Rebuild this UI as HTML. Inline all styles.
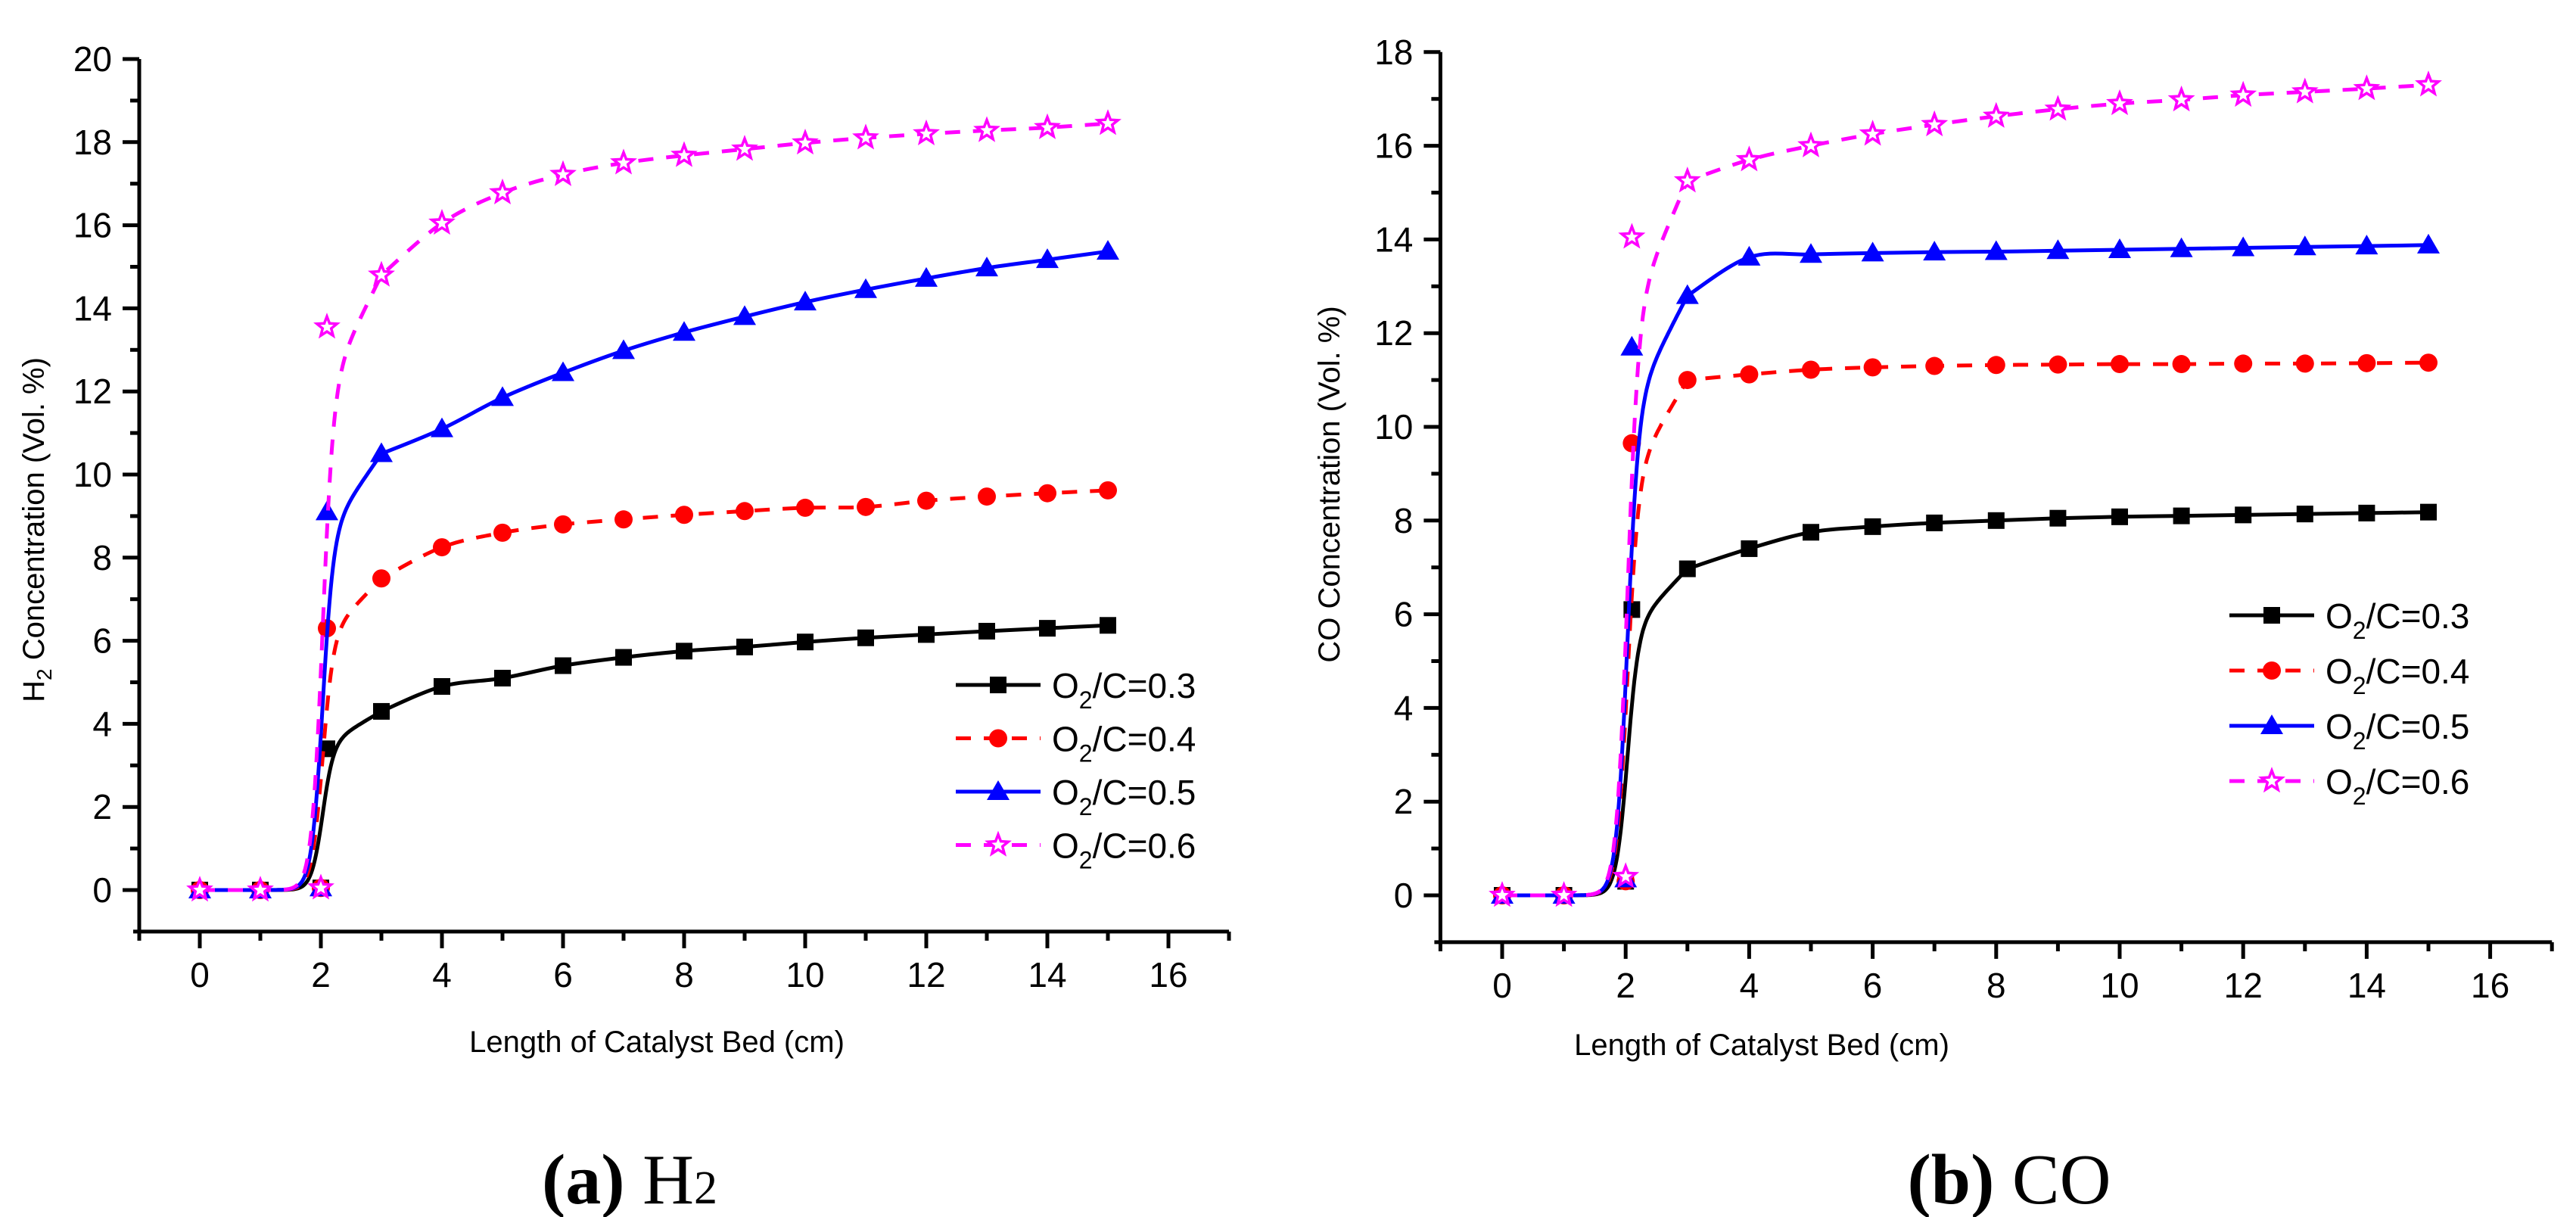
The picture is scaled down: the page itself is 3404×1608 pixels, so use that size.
<!DOCTYPE html>
<html><head><meta charset="utf-8"><style>
html,body{margin:0;padding:0;background:#fff;}
svg{display:block;font-family:"Liberation Sans",Arial,sans-serif;}
</style></head><body>
<svg id="fig" width="3404" height="1608" viewBox="0 0 3404 1608" xmlns="http://www.w3.org/2000/svg">
<text x="832" y="1590" text-anchor="middle" font-family="Liberation Serif, serif" font-size="94"><tspan font-weight="bold">(a)</tspan> H<tspan font-size="62">2</tspan></text>
<text x="2655" y="1590" text-anchor="middle" font-family="Liberation Serif, serif" font-size="94"><tspan font-weight="bold">(b)</tspan> CO</text>
</svg>
<script>
const xCats = [0, 1, 2, 2.1, 3, 4, 5, 6, 7, 8, 9, 10, 11, 12, 13, 14, 15];
const seriesLabels = ["0.3", "0.4", "0.5", "0.6"];
const h2_03 = [0, 0, 0.05, 3.4, 4.3, 4.9, 5.1, 5.4, 5.6, 5.75, 5.85, 5.97, 6.07, 6.15, 6.23, 6.3, 6.37];
const h2_04 = [0, 0, 0.05, 6.3, 7.5, 8.25, 8.6, 8.8, 8.92, 9.03, 9.12, 9.2, 9.22, 9.37, 9.47, 9.55, 9.62];
const h2_05 = [0, 0, 0.05, 9.1, 10.5, 11.1, 11.85, 12.45, 12.98, 13.42, 13.8, 14.15, 14.45, 14.72, 14.97, 15.17, 15.37];
const h2_06 = [0, 0, 0.05, 13.55, 14.8, 16.05, 16.78, 17.22, 17.5, 17.68, 17.83, 17.98, 18.1, 18.2, 18.28, 18.35, 18.45];
const co_03 = [0, 0, 0.3, 6.1, 6.97, 7.4, 7.75, 7.87, 7.95, 8.0, 8.05, 8.08, 8.1, 8.12, 8.14, 8.16, 8.18];
const co_04 = [0, 0, 0.3, 9.65, 11.0, 11.12, 11.22, 11.27, 11.3, 11.32, 11.33, 11.34, 11.34, 11.35, 11.35, 11.36, 11.37];
const co_05 = [0, 0, 0.35, 11.7, 12.8, 13.62, 13.68, 13.71, 13.73, 13.74, 13.76, 13.78, 13.8, 13.82, 13.84, 13.86, 13.88];
const co_06 = [0, 0, 0.4, 14.05, 15.25, 15.7, 16.0, 16.25, 16.45, 16.63, 16.78, 16.9, 16.98, 17.08, 17.15, 17.22, 17.3];
const xTicks = [0, 2, 4, 6, 8, 10, 12, 14, 16];
const h2YTicks = [0, 2, 4, 6, 8, 10, 12, 14, 16, 18, 20];
const coYTicks = [0, 2, 4, 6, 8, 10, 12, 14, 16, 18];

const NS = "http://www.w3.org/2000/svg";
const svg = document.getElementById('fig');
function el(tag, attrs, parent) {
  const e = document.createElementNS(NS, tag);
  for (const k in attrs) e.setAttribute(k, attrs[k]);
  (parent || svg).appendChild(e);
  return e;
}
const styles = [
  {color: "#000", dash: null, marker: "square"},
  {color: "#ff0000", dash: "20 17", marker: "circle"},
  {color: "#0000ff", dash: null, marker: "triangle"},
  {color: "#ff00ff", dash: "20 17", marker: "star"}
];

function curvePts(vals, X, Y) {
  const v3 = vals[4];
  const pts = [];
  pts.push([X(0), Y(0)]);
  for (let x = 1; x <= 3.0001; x += 0.02) {
    const L = 1 / (1 + Math.exp(-(x - 2.02) / 0.09));
    const g = 0.8 * v3 + 0.2 * v3 * (x - 2);
    pts.push([X(x), Y(x < 2 ? L * 0.8 * v3 : L * g)]);
  }
  const cp = [];
  for (let i = 4; i < xCats.length; i++) cp.push([X(xCats[i]), Y(vals[i])]);
  let d = "M" + pts.map(p => p[0].toFixed(1) + "," + p[1].toFixed(1)).join(" L");
  for (let i = 0; i < cp.length - 1; i++) {
    const p0 = cp[Math.max(0, i - 1)], p1 = cp[i], p2 = cp[i + 1], p3 = cp[Math.min(cp.length - 1, i + 2)];
    const c1 = [p1[0] + (p2[0] - p0[0]) / 6, p1[1] + (p2[1] - p0[1]) / 6];
    const c2 = [p2[0] - (p3[0] - p1[0]) / 6, p2[1] - (p3[1] - p1[1]) / 6];
    d += " C" + c1[0].toFixed(1) + "," + c1[1].toFixed(1) + " " + c2[0].toFixed(1) + "," + c2[1].toFixed(1) + " " + p2[0].toFixed(1) + "," + p2[1].toFixed(1);
  }
  return d;
}

function marker(g, type, cx, cy, color) {
  let m;
  if (type === "square") m = el('rect', {x: cx - 11, y: cy - 11, width: 22, height: 22, fill: color}, g);
  else if (type === "circle") m = el('circle', {cx: cx, cy: cy, r: 12, fill: color}, g);
  else if (type === "triangle") m = el('polygon', {points: `${cx},${cy - 15} ${cx - 15},${cy + 11} ${cx + 15},${cy + 11}`, fill: color}, g);
  else {
    const p = [];
    for (let k = 0; k < 10; k++) {
      const r = k % 2 ? 6 : 14, a = -Math.PI / 2 + k * Math.PI / 5;
      p.push((cx + r * Math.cos(a)).toFixed(1) + "," + (cy + r * Math.sin(a)).toFixed(1));
    }
    m = el('polygon', {points: p.join(" "), fill: "#fff", stroke: color, "stroke-width": 3.5}, g);
  }
  return m;
}

function panel(cfg) {
  const X = v => cfg.x0 + v * cfg.xs;
  const Y = v => cfg.y0 - v * cfg.ys;
  const g = el('g', {});
  
  
  const ax = el('g', {stroke: "#000", "stroke-width": 5}, g);
  
  
  el('line', {x1: X(-1), y1: Y(-1), x2: X(-1), y2: Y(cfg.ymax)}, ax);
  el('line', {x1: X(-1) - 8, y1: Y(-1), x2: X(17), y2: Y(-1)}, ax);
  for (let v = -1; v <= 17; v++) {
    const major = v >= 0 && v % 2 === 0;
    el('line', {x1: X(v), y1: Y(-1), x2: X(v), y2: Y(-1) + (major ? 22 : 12)}, ax);
  }
  for (let v = 0; v <= cfg.ymax; v++) {
    const major = v % 2 === 0;
    el('line', {x1: X(-1), y1: Y(v), x2: X(-1) - (major ? 22 : 12), y2: Y(v)}, ax);
  }
  xTicks.forEach(t => {
    const tx = el('text', {x: X(t), y: Y(-1) + 73, "text-anchor": "middle", "font-size": 46}, g);
    
    
    tx.textContent = t;
  });
  cfg.yTicks.forEach(t => {
    const ty = el('text', {x: X(-1) - 36, y: Y(t) + 16, "text-anchor": "end", "font-size": 46}, g);
    
    
    ty.textContent = t;
  });
  const xt = el('text', {x: cfg.xtX, y: cfg.xtY, "text-anchor": "middle", "font-size": 40}, g);
  
  
  xt.textContent = "Length of Catalyst Bed (cm)";
  const yt = el('text', {transform: `translate(${cfg.ytX},${cfg.ytY}) rotate(-90)`, "text-anchor": "middle", "font-size": 40}, g);
  
  
  yt.innerHTML = cfg.ytitle;
  cfg.series.forEach((vals, si) => {
    const st = styles[si];
    const sg = el('g', {}, g);
    
    
    const attrs = {d: curvePts(vals, X, Y), fill: "none", stroke: st.color, "stroke-width": 5};
    if (st.dash) attrs["stroke-dasharray"] = st.dash;
    const ln = el('path', attrs, sg);
    
    
    vals.forEach((v, i) => {
      const m = marker(sg, st.marker, X(xCats[i]), Y(v), st.color);
      
      
    });
  });
  const lg = el('g', {}, g);
  
  
  seriesLabels.forEach((lab, i) => {
    const st = styles[i];
    const y = cfg.legY + i * cfg.legDy;
    const eg = el('g', {}, lg);
    
    
    const a = {x1: cfg.legX, y1: y, x2: cfg.legX + 112, y2: y, stroke: st.color, "stroke-width": 5};
    if (st.dash) a["stroke-dasharray"] = st.dash;
    el('line', a, eg);
    marker(eg, st.marker, cfg.legX + 56, y, st.color);
    const t = el('text', {x: cfg.legX + 127, y: y + 17, "font-size": 46}, eg);
    t.innerHTML = `O<tspan font-size="32" dy="14">2</tspan><tspan dy="-14">/C=${lab}</tspan>`;
  });
}

panel({name: "h2-chart", x0: 264, xs: 80, y0: 1176, ys: 54.9, ymax: 20, yTicks: h2YTicks,
  series: [h2_03, h2_04, h2_05, h2_06], xtX: 868, xtY: 1390, ytX: 58, ytY: 700,
  ytitle: 'H<tspan font-size="28" dy="10">2</tspan><tspan dy="-10"> Concentration (Vol. %)</tspan>',
  legX: 1263, legY: 905, legDy: 70.5});
panel({name: "co-chart", x0: 1985, xs: 81.6, y0: 1183, ys: 61.9, ymax: 18, yTicks: coYTicks,
  series: [co_03, co_04, co_05, co_06], xtX: 2328, xtY: 1394, ytX: 1770, ytY: 640,
  ytitle: 'CO Concentration (Vol. %)',
  legX: 2946, legY: 813, legDy: 73});
</script>
</body></html>
